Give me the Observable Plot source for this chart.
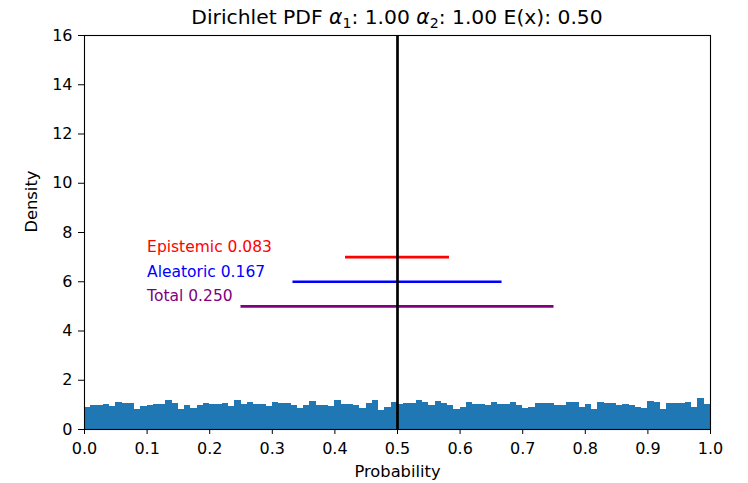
<!DOCTYPE html>
<html>
<head>
<meta charset="utf-8">
<script src="https://cdn.jsdelivr.net/npm/d3@7"></script>
<script src="https://cdn.jsdelivr.net/npm/@observablehq/plot@0.6"></script>
<style>
  body { margin: 0; background: #fff; font-family: "DejaVu Sans", sans-serif; }
  #wrap { position: relative; width: 748px; height: 483px; background: #fff; }
  #title { position: absolute; top: 7px; left: 84px; width: 626px; text-align: center;
           font-size: 20.3px; line-height: 1; color: #000; white-space: nowrap; }
  #title sub { font-size: 70%; vertical-align: -0.3em; line-height: 0; }
  #title i { font-style: italic; }
</style>
</head>
<body>
<div id="wrap">
  <div id="chart"></div>
  <div id="title">Dirichlet PDF <i>α</i><sub>1</sub>: 1.00 <i>α</i><sub>2</sub>: 1.00 E(x): 0.50</div>
</div>
<script>
// Histogram densities for 100 equal-width bins on [0, 1]
const binCount = 100;
const densities = [
  0.88, 0.96, 0.96, 1.00, 0.92, 1.10, 1.07, 1.04, 0.81, 0.93,
  0.97, 1.00, 1.03, 1.17, 1.05, 0.80, 0.96, 0.84, 0.96, 1.05,
  1.03, 1.01, 1.05, 0.94, 1.16, 1.03, 1.10, 1.00, 1.03, 0.95,
  1.08, 1.04, 1.07, 0.96, 0.86, 0.96, 1.12, 0.97, 0.96, 0.93,
  1.17, 1.00, 1.00, 0.96, 0.86, 1.05, 1.18, 0.78, 0.90, 1.08,
  1.00, 1.04, 1.06, 1.16, 1.08, 0.96, 1.14, 1.04, 0.96, 0.83,
  0.91, 1.11, 1.00, 1.00, 0.96, 1.11, 1.00, 1.00, 1.08, 0.96,
  0.87, 0.89, 1.04, 1.04, 1.06, 0.96, 0.97, 1.11, 1.11, 0.91,
  1.02, 0.83, 1.11, 1.07, 1.04, 0.97, 1.00, 0.96, 0.88, 0.87,
  1.12, 1.08, 0.81, 1.07, 1.07, 1.06, 1.11, 0.91, 1.26, 1.02
];

// Uncertainty measures
const expectedValue = 0.5;
const measureNames = ["Epistemic", "Aleatoric", "Total"];
const measureValues = [0.083, 0.167, 0.250];
const measureLevels = [7, 6, 5];
const measureColors = ["red", "blue", "purple"];
const labelX = 0.1;

// Tick labels
const xTicks = [0.0, 0.1, 0.2, 0.3, 0.4, 0.5, 0.6, 0.7, 0.8, 0.9, 1.0];
const yTicks = [0, 2, 4, 6, 8, 10, 12, 14, 16];

const bins = densities.map((d, i) => ({x1: i / binCount, x2: (i + 1) / binCount, y: d}));
const measures = measureNames.map((name, i) => ({
  name, value: measureValues[i], level: measureLevels[i], color: measureColors[i],
  label: `${name} ${measureValues[i].toFixed(3)}`
}));

const chart = Plot.plot({
  width: 748,
  height: 483,
  marginTop: 35,
  marginBottom: 54,
  marginLeft: 84,
  marginRight: 38,
  style: { fontFamily: "DejaVu Sans", fontSize: "16px", color: "black", background: "white" },
  x: { domain: [0, 1] },
  y: { domain: [0, 16] },
  marks: [
    Plot.rectY(bins, { x1: "x1", x2: "x2", y: "y", fill: "#1f77b4", inset: 0, shapeRendering: "crispEdges" }),
    Plot.ruleY(measures, {
      y: "level",
      x1: d => expectedValue - d.value,
      x2: d => expectedValue + d.value,
      stroke: "color",
      strokeWidth: 2.7
    }),
    Plot.ruleX([expectedValue], { stroke: "black", strokeWidth: 2.7 }),
    Plot.text(measures, {
      x: () => labelX,
      y: "level",
      text: "label",
      fill: "color",
      textAnchor: "start",
      lineAnchor: "middle",
      dy: -10,
      fontSize: 15.5
    }),
    Plot.frame({ stroke: "black", strokeWidth: 1.1 }),
    Plot.axisX({ ticks: xTicks, tickFormat: d3.format(".1f"), tickSize: 5, tickPadding: 8, label: null, fontSize: 16 }),
    Plot.axisY({ ticks: yTicks, tickFormat: d3.format("d"), tickSize: 6, tickPadding: 6, label: null, fontSize: 16 }),
    Plot.text(["Probability"], { frameAnchor: "bottom", dy: 42, lineAnchor: "middle", fontSize: 16.3 }),
    Plot.text(["Density"], { frameAnchor: "left", dx: -53, rotate: -90, lineAnchor: "middle", fontSize: 16.3 })
  ]
});
document.getElementById("chart").appendChild(chart);
</script>
</body>
</html>
